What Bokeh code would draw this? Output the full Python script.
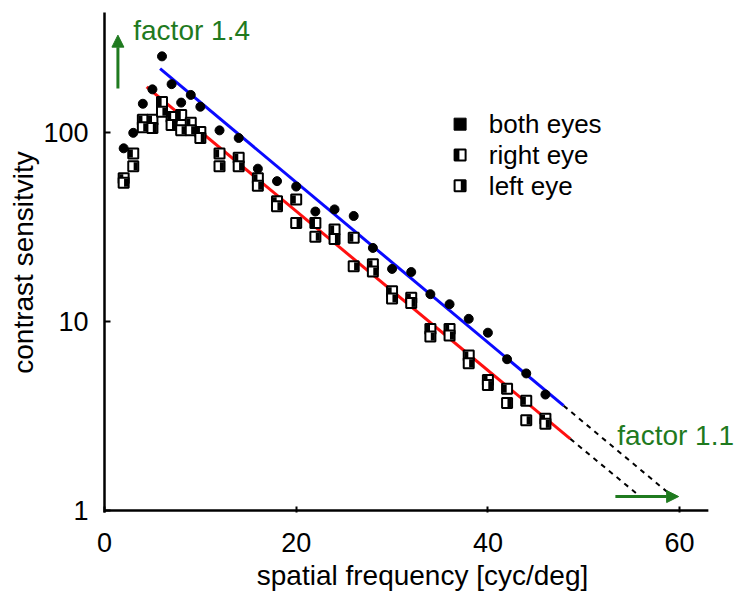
from bokeh.plotting import figure
from bokeh.models import Range1d, FixedTicker, Arrow, NormalHead, Label, PrintfTickFormatter
from bokeh.embed import file_html
from bokeh.resources import INLINE

# ---- data ----
freq = [2, 3, 4, 5, 6, 7, 8, 9, 10, 12, 14, 16, 18, 20, 22, 24, 26, 28, 30, 32, 34, 36, 38, 40, 42, 44, 46]
both_eyes = [82, 99, 141, 168, 251, 179, 143, 157, 136, 102, 93, 64, 55, 51.5, 38, 39, 36, 24.4,
             18.9, 18.2, 13.9, 12.3, 10.3, 8.7, 6.3, 5.3, 4.1]
right_eye = [57, 77, 116, 116, 144, 120, 123, 112, 100, 77, 73, 57, 43, 44, 33, 30.5, 27.6, 20,
             14.4, 13.3, 9.1, 9.1, 6.6, 4.9, 4.4, 3.8, 3.05]
left_eye = [54, 66, 106, 105, 128, 109, 102, 102, 93, 66, 66, 52, 40.5, 33, 28, 27.2, 19.5, 18.3,
            13.2, 12.5, 8.3, 8.4, 6.0, 4.6, 3.7, 3.0, 2.87]

# fitted lines (solid) and their extrapolations (dashed)
blue_fit_x = [5.8, 47.9]
blue_fit_y = [216, 3.58]
blue_ext_x = [47.9, 58.9]
blue_ext_y = [3.58, 1.23]
red_fit_x = [4.4, 48.6]
red_fit_y = [173, 2.39]
red_ext_x = [48.6, 55.5]
red_ext_y = [2.39, 1.23]

x_ticks = [0, 20, 40, 60]
y_ticks = [1, 10, 100]
legend_labels = ["both eyes", "right eye", "left eye"]

FONT = "Liberation Sans"
GREEN = "#1f7a1f"

FRAME_W = 636
X0 = 0.0
X1 = FRAME_W / 9.585          # frame extends to the canvas edge
AXIS_END = 63.0               # visible end of the x axis line
Y0 = 10 ** (-2 / 190)         # frame bottom a hair below y = 1
Y1 = 428

p = figure(width=740, height=594, y_axis_type="log",
           x_range=Range1d(X0, X1), y_range=Range1d(Y0, Y1),
           output_backend="svg", toolbar_location=None,
           min_border_left=104, min_border_right=0, min_border_top=12, min_border_bottom=82)

p.outline_line_color = None
p.grid.visible = False
p.background_fill_color = "white"
p.border_fill_color = "white"

for ax in (p.xaxis[0], p.yaxis[0]):
    ax.axis_line_width = 2.5
    ax.axis_line_color = "black"
    ax.major_tick_in = 6
    ax.major_tick_out = 0
    ax.major_tick_line_width = 2
    ax.major_tick_line_color = "black"
    ax.minor_tick_in = 0
    ax.minor_tick_out = 0
    ax.major_label_text_font = FONT
    ax.major_label_text_font_size = "27px"
    ax.major_label_text_color = "black"
    ax.axis_label_text_font = FONT
    ax.axis_label_text_font_size = "28px"
    ax.axis_label_text_font_style = "normal"
    ax.axis_label_text_color = "black"

p.xaxis.axis_line_color = None
p.xaxis.ticker = FixedTicker(ticks=x_ticks)
p.yaxis.ticker = FixedTicker(ticks=y_ticks)
p.yaxis.formatter = PrintfTickFormatter(format="%d")
p.xaxis.major_label_standoff = 20
p.yaxis.major_label_standoff = 16
p.xaxis.axis_label_standoff = 5
p.yaxis.axis_label_standoff = 1
p.xaxis.axis_label = "spatial frequency [cyc/deg]"
p.yaxis.axis_label = "contrast sensitvity"

# x axis line (ends before the frame edge, as in the reference)
p.segment(x0=[X0], y0=[1], x1=[AXIS_END], y1=[1], line_color="black", line_width=2.5)

# fit lines
p.line(blue_fit_x, blue_fit_y, line_color="#0a0aff", line_width=3)
p.line(red_fit_x, red_fit_y, line_color="#ff1010", line_width=3)
p.line(blue_ext_x, blue_ext_y, line_color="black", line_width=2, line_dash="5 5")
p.line(red_ext_x, red_ext_y, line_color="black", line_width=2, line_dash="5 5")

# half-filled square markers
dx = 2.4 * (X1 - X0) / FRAME_W
p.scatter(freq, right_eye, marker="square", size=10, fill_color="white", line_color="black", line_width=2)
p.rect([f - dx for f in freq], right_eye, width=4, height=8, width_units="screen", height_units="screen",
       fill_color="black", line_color=None)
p.scatter(freq, left_eye, marker="square", size=10, fill_color="white", line_color="black", line_width=2)
p.rect([f + dx for f in freq], left_eye, width=4, height=8, width_units="screen", height_units="screen",
       fill_color="black", line_color=None)

# both eyes: filled circles
p.scatter(freq, both_eyes, marker="circle", size=9, fill_color="black", line_color="black")

# legend (custom, to reproduce half-filled squares)
leg_x = 37.1
leg_text_x = 40.1
leg_y = [110, 75.7, 52]
ldx = 3.2 * (X1 - X0) / FRAME_W
p.rect([leg_x], [leg_y[0]], width=12, height=12, width_units="screen", height_units="screen",
       fill_color="black", line_color="black", line_width=1)
p.rect([leg_x, leg_x], [leg_y[1], leg_y[2]], width=11, height=11, width_units="screen", height_units="screen",
       fill_color="white", line_color="black", line_width=2)
p.rect([leg_x - ldx], [leg_y[1]], width=5, height=10, width_units="screen", height_units="screen",
       fill_color="black", line_color=None)
p.rect([leg_x + ldx], [leg_y[2]], width=5, height=10, width_units="screen", height_units="screen",
       fill_color="black", line_color=None)
for lab, yy in zip(legend_labels, leg_y):
    p.add_layout(Label(x=leg_text_x, y=yy, text=lab, text_font=FONT, text_font_size="26px",
                       text_color="black", text_baseline="middle", text_align="left"))

# green arrows and annotations
p.add_layout(Arrow(end=NormalHead(size=12, fill_color=GREEN, line_color=GREEN),
                   x_start=1.4, y_start=170, x_end=1.4, y_end=325,
                   line_color=GREEN, line_width=3))
p.add_layout(Arrow(end=NormalHead(size=12, fill_color=GREEN, line_color=GREEN),
                   x_start=53.3, y_start=1.185, x_end=59.9, y_end=1.185,
                   line_color=GREEN, line_width=3))
p.add_layout(Label(x=3.0, y=344, text="factor 1.4", text_font=FONT, text_font_size="28px",
                   text_color=GREEN, text_baseline="middle", text_align="left"))
p.add_layout(Label(x=53.5, y=2.48, text="factor 1.1", text_font=FONT, text_font_size="28px",
                   text_color=GREEN, text_baseline="middle", text_align="left"))

open("out.html", "w").write(file_html(p, INLINE))
